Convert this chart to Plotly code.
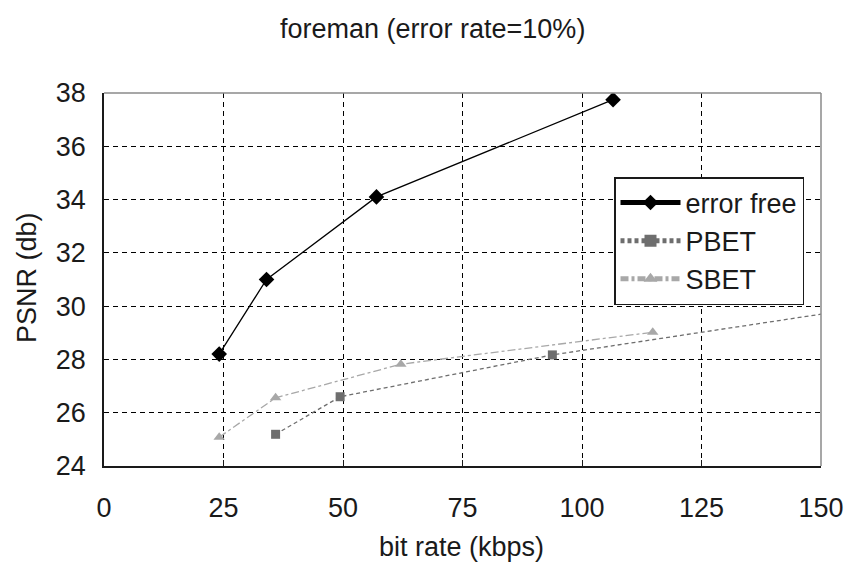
import plotly.graph_objects as go

# Data
ef_x = [24.1, 34.0, 57.0, 106.5]
ef_y = [28.2, 31.0, 34.1, 37.75]
pbet_x = [35.9, 49.4, 93.8, 153.0]
pbet_y = [25.19, 26.6, 28.17, 29.78]
sbet_x = [24.1, 35.9, 62.1, 114.8]
sbet_y = [25.08, 26.56, 27.82, 29.02]
x_ticks = [0, 25, 50, 75, 100, 125, 150]
y_ticks = [24, 26, 28, 30, 32, 34, 36, 38]

FONT = "Liberation Sans, Arial, sans-serif"
TXT = "#1a1a1a"

fig = go.Figure()
fig.add_trace(go.Scatter(
    x=ef_x, y=ef_y, name="error free", mode="lines+markers",
    line=dict(color="black", width=1.3),
    marker=dict(symbol="diamond", size=12, color="black")))
fig.add_trace(go.Scatter(
    x=pbet_x, y=pbet_y, name="PBET", mode="lines+markers",
    line=dict(color="#6e6e6e", width=1.3, dash="4px,3px"),
    marker=dict(symbol="square", size=9, color="#6e6e6e")))
fig.add_trace(go.Scatter(
    x=sbet_x, y=sbet_y, name="SBET", mode="lines+markers",
    line=dict(color="#a8a8a8", width=1.3, dash="8px,3px,3px,3px"),
    marker=dict(symbol="triangle-up", size=10, color="#a8a8a8")))

fig.update_layout(
    width=848, height=571,
    margin=dict(l=104, r=27, t=93, b=105, autoexpand=False),
    paper_bgcolor="white", plot_bgcolor="white",
    font=dict(family=FONT, color=TXT),
    showlegend=True,
    legend=dict(
        x=(614 - 104) / 717, y=(466 - 177) / 373, xanchor="left", yanchor="top",
        bgcolor="white", bordercolor=TXT, borderwidth=1.5,
        font=dict(size=27, family=FONT, color=TXT),
        tracegroupgap=0, itemsizing="constant", itemwidth=60,
    ),
    annotations=[
        dict(text="foreman (error rate=10%)", xref="paper", yref="paper",
             x=(432 - 104) / 717, y=(466 - 29) / 373, xanchor="center", yanchor="middle",
             showarrow=False, font=dict(size=27, family=FONT, color=TXT)),
        dict(text="bit rate (kbps)", xref="paper", yref="paper",
             x=(461 - 104) / 717, y=(466 - 547) / 373, xanchor="center", yanchor="middle",
             showarrow=False, font=dict(size=27, family=FONT, color=TXT)),
        dict(text="PSNR (db)", xref="paper", yref="paper", textangle=-90,
             x=(27 - 104) / 717, y=(466 - 278) / 373, xanchor="center", yanchor="middle",
             showarrow=False, font=dict(size=27, family=FONT, color=TXT)),
    ],
)

fig.update_xaxes(
    range=[0, 150], tickvals=x_ticks, ticktext=[str(v) for v in x_ticks],
    showgrid=True, gridcolor="black", gridwidth=1.2, griddash="5px,4px",
    showline=True, linecolor=TXT, linewidth=1.5, mirror=False,
    ticks="inside", ticklen=6, tickcolor=TXT,
    tickfont=dict(size=27, family=FONT, color=TXT),
    ticklabelstandoff=17, zeroline=False, automargin=False,
)
fig.update_yaxes(
    range=[24, 38], tickvals=y_ticks, ticktext=[str(v) for v in y_ticks],
    showgrid=True, gridcolor="black", gridwidth=1.2, griddash="5px,4px",
    showline=True, linecolor=TXT, linewidth=1.5, mirror=False,
    ticks="", tickfont=dict(size=27, family=FONT, color=TXT),
    ticklabelstandoff=11, zeroline=False, automargin=False,
)
# top and right frame lines in gray
fig.add_shape(type="line", xref="paper", yref="paper", x0=0, x1=1, y0=1, y1=1,
              line=dict(color="#8a8a8a", width=1.5), layer="above")
fig.add_shape(type="line", xref="paper", yref="paper", x0=1, x1=1, y0=0, y1=1,
              line=dict(color="#8a8a8a", width=1.5), layer="above")

fig.write_html("out.html")
